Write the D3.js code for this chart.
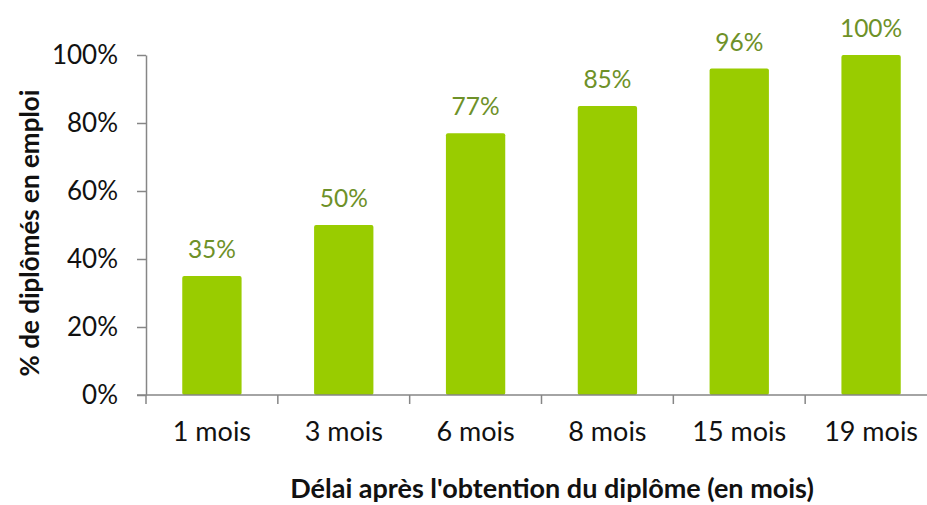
<!DOCTYPE html>
<html>
<head>
<meta charset="utf-8">
<script src="https://cdn.jsdelivr.net/npm/d3@7"></script>
<style>
  body { margin: 0; background: #fff; }
  svg text { font-family: Lato, 'Open Sans', sans-serif; }
  .axis path, .axis line { stroke: #868686; stroke-width: 1.5; }
  .axis text { fill: #111; }
</style>
</head>
<body>
<div id="chart"></div>
<script>
var categories = ['1 mois', '3 mois', '6 mois', '8 mois', '15 mois', '19 mois']
var values = [0.35, 0.50, 0.77, 0.85, 0.96, 1.00]
var labels = ['35%', '50%', '77%', '85%', '96%', '100%']
var yTicks = [0, 0.2, 0.4, 0.6, 0.8, 1.0]

var width = 927, height = 505

var svg = d3.select('#chart').append('svg')
  .attr('width', width)
  .attr('height', height)

var x = d3.scaleBand()
  .domain(categories)
  .range([146, 937])
  .paddingInner(0.55)
  .paddingOuter(0.275)

var y = d3.scaleLinear().domain([0, 1]).range([395, 55])

// bars
svg.selectAll('rect.bar')
  .data(values)
  .enter()
  .append('rect')
  .attr('class', 'bar')
  .attr('x', function (d, i) { return x(categories[i]) })
  .attr('y', function (d) { return y(d) })
  .attr('width', x.bandwidth())
  .attr('height', function (d) { return y(0) - y(d) })
  .attr('rx', 2)
  .style('fill', '#99cc00')

// value labels
svg.selectAll('text.val')
  .data(values)
  .enter()
  .append('text')
  .attr('class', 'val')
  .attr('x', function (d, i) { return x(categories[i]) + x.bandwidth() / 2 })
  .attr('y', function (d) { return y(d) - 18 })
  .attr('text-anchor', 'middle')
  .style('font-size', '24.5px')
  .style('fill', '#6e9128')
  .text(function (d, i) { return labels[i] })

// y axis
var yAxis = d3.axisLeft(y)
  .tickValues(yTicks)
  .tickFormat(d3.format('.0%'))
  .tickSize(9)
  .tickSizeOuter(0)
  .tickPadding(19)

svg.append('g')
  .attr('class', 'axis y')
  .attr('transform', 'translate(146,0)')
  .call(yAxis)
  .selectAll('text')
  .style('font-size', '26px')

// x axis: baseline with ticks at category boundaries
var step = x.step()
var boundaries = categories.map(function (c) {
  return x(c) - step * x.paddingInner() / 2
})

var gx = svg.append('g').attr('class', 'axis x')
gx.append('line')
  .attr('x1', 137).attr('x2', width)
  .attr('y1', y(0)).attr('y2', y(0))
gx.selectAll('line.tick')
  .data(boundaries)
  .enter()
  .append('line')
  .attr('class', 'tick')
  .attr('x1', function (d) { return d })
  .attr('x2', function (d) { return d })
  .attr('y1', y(0))
  .attr('y2', y(0) + 9)

var xAxis = d3.axisBottom(x).tickSize(0).tickPadding(27)
svg.append('g')
  .attr('class', 'axis xl')
  .attr('transform', 'translate(0,' + y(0) + ')')
  .call(xAxis)
  .call(function (g) { g.select('.domain').remove() })
  .selectAll('text')
  .style('font-size', '27px')

// axis titles
svg.append('text')
  .attr('x', 552)
  .attr('y', 498)
  .attr('text-anchor', 'middle')
  .style('font-size', '27px')
  .style('font-weight', 'bold')
  .style('fill', '#111')
  .text("Délai après l'obtention du diplôme (en mois)")

svg.append('text')
  .attr('transform', 'translate(39,' + 233 + ') rotate(-90)')
  .attr('text-anchor', 'middle')
  .style('font-size', '26px')
  .style('font-weight', 'bold')
  .style('fill', '#111')
  .text('% de diplômés en emploi')
</script>
</body>
</html>
